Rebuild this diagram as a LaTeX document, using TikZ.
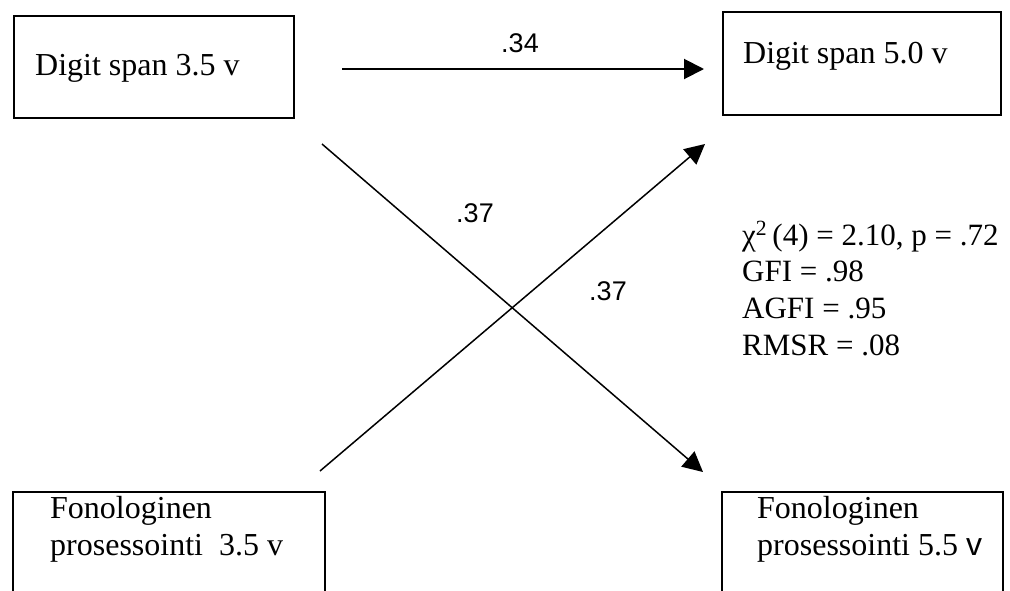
\documentclass[tikz,border=0pt]{standalone}
\usepackage{fontspec}
\setmainfont{Liberation Serif}
\newfontfamily\labelfont{Liberation Sans}
\usetikzlibrary{arrows.meta}

\tikzset{
  box/.style={draw, line width=2pt, rectangle, inner sep=0pt},
  boxtext/.style={anchor=base west, inner sep=0pt, font=\fontsize{32}{37}\selectfont},
  stat/.style={anchor=base west, inner sep=0pt, font=\fontsize{31}{36}\selectfont},
  coef/.style={anchor=base, inner sep=0pt, font=\labelfont\fontsize{27}{30}\selectfont},
  path/.style={line width=1.5pt, -{Triangle[length=20pt,width=20pt]}}
}

\begin{document}
\begin{tikzpicture}[x=1pt, y=-1pt]
  \useasboundingbox (0,0) rectangle (1010,590);
  \clip (0,0) rectangle (1010,590);

  % observed variables
  \node[box, minimum width=280pt, minimum height=102pt] (ds35) at (154,67) {};
  \node[box, minimum width=278pt, minimum height=103pt] (ds50) at (862,63.5) {};
  \node[box, minimum width=312pt, minimum height=128pt] (fp35) at (169,556) {};
  \node[box, minimum width=281pt, minimum height=128pt] (fp55) at (862.5,556) {};

  \node[boxtext] (ds35t) at (35,75) {Digit span 3.5 v};
  \node[boxtext] (ds50t) at (743,63) {Digit span 5.0 v};
  \node[boxtext] (fp35a) at (50,518) {Fonologinen};
  \node[boxtext] (fp35b) at (50,555) {prosessointi\ \ 3.5 v};
  \node[boxtext] (fp55a) at (757,518) {Fonologinen};
  \node[boxtext] (fp55b) at (757,555) {prosessointi 5.5 {\labelfont v}};

  % end points of the paths
  \coordinate (ds35out) at (342,69);
  \coordinate (ds50in)  at (704,69);
  \coordinate (ds35x)   at (322,144);
  \coordinate (fp55in)  at (703,472);
  \coordinate (fp35x)   at (320,471);
  \coordinate (ds50x)   at (705,144);

  % paths
  \draw[path, line width=2pt] (ds35out) -- (ds50in);
  \draw[path] (ds35x) -- (fp55in);
  \draw[path] (fp35x) -- (ds50x);

  % path coefficients
  \node[coef] (c1) at (520,52) {.34};
  \node[coef] (c2) at (475,222) {.37};
  \node[coef] (c3) at (608,300) {.37};

  % fit indices
  \node[stat] (fit1) at (742,245) {χ\textsuperscript{2}\,(4) = 2.10, p = .72};
  \node[stat] (fit2) at (742,281) {GFI = .98};
  \node[stat] (fit3) at (742,318) {AGFI = .95};
  \node[stat] (fit4) at (742,355) {RMSR = .08};
\end{tikzpicture}
\end{document}
